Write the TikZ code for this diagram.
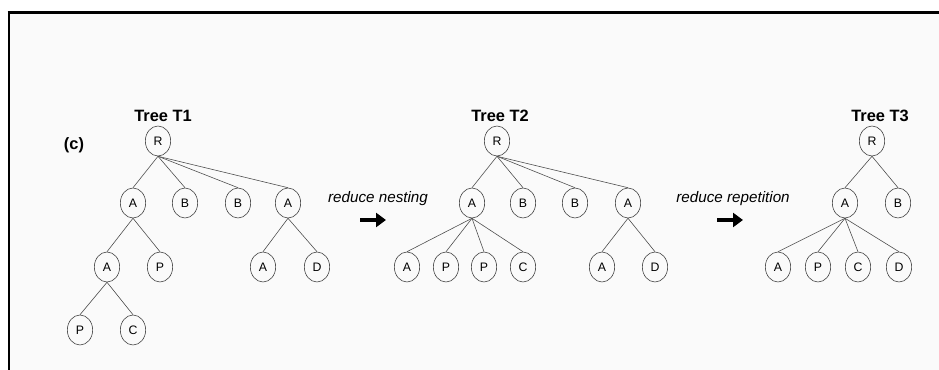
\documentclass[tikz,border=0pt]{standalone}
\usepackage{fontspec}
\setmainfont{Liberation Sans}
\usetikzlibrary{shapes.geometric,arrows.meta}
\tikzset{
  tnode/.style={draw=black!75, ellipse, line width=0.5pt, inner sep=0pt,
    minimum width=0.76cm, minimum height=0.9cm, font=\fontsize{10.5}{12}\selectfont},
  edge/.style={draw=black!70, line width=0.5pt},
  ttitle/.style={font=\fontsize{14}{16}\selectfont\bfseries},
  steplabel/.style={font=\fontsize{13}{15}\selectfont\itshape},
  bigarrow/.style={line width=4pt, -{Triangle[length=0.3cm, width=0.42cm]}}
}
\begin{document}
\begin{tikzpicture}[x=0.03cm, y=-0.03cm]
  \useasboundingbox (0,0) rectangle (939,370);
  \fill[black!2] (9,12.5) rectangle (939,370);
  \draw[line width=1.7pt] (9,370) -- (9,12.5);
  \draw[line width=2.6pt] (7.5,12.5) -- (939,12.5);
  \node[ttitle] (lab) at (74,145) {(c)};
  % Tree T1
  \node[ttitle] (ti1) at (163,116) {Tree T1};
  \node[tnode] (r1) at (158,141) {R};
  \node[tnode] (a1) at (133,203) {A};  \node[tnode] (b1) at (185,203) {B};
  \node[tnode] (b2) at (238,203) {B};  \node[tnode] (a2) at (288,203) {A};
  \node[tnode] (a3) at (107,267) {A};  \node[tnode] (p1) at (160,267) {P};
  \node[tnode] (a4) at (263,267) {A};  \node[tnode] (d1) at (317,267) {D};
  \node[tnode] (p2) at (80,330) {P};   \node[tnode] (c1) at (133,330) {C};
  \foreach \p/\c in {r1/a1, r1/b1, r1/b2, r1/a2, a1/a3, a1/p1, a2/a4, a2/d1, a3/p2, a3/c1}
    \draw[edge] (\p.south) -- (\c.north);
  % reduce nesting
  \node[steplabel] (nest) at (378,199) {reduce nesting};
  \coordinate (nest1) at (360,220); \coordinate (nest2) at (386,220);
  \draw[bigarrow] (nest1) -- (nest2);
  % Tree T2
  \node[ttitle] (ti2) at (500,116) {Tree T2};
  \node[tnode] (s) at (497,141) {R};
  \node[tnode] (sa1) at (472,203) {A};  \node[tnode] (sb1) at (523,203) {B};
  \node[tnode] (sb2) at (575,203) {B};  \node[tnode] (sa2) at (628,203) {A};
  \node[tnode] (sa3) at (407,267) {A};  \node[tnode] (sp1) at (446,267) {P};
  \node[tnode] (sp2) at (484,267) {P};  \node[tnode] (sc) at (523,267) {C};
  \node[tnode] (sa4) at (602,267) {A};  \node[tnode] (sd) at (655,267) {D};
  \foreach \p/\c in {s/sa1, s/sb1, s/sb2, s/sa2, sa1/sa3, sa1/sp1, sa1/sp2, sa1/sc, sa2/sa4, sa2/sd}
    \draw[edge] (\p.south) -- (\c.north);
  % reduce repetition
  \node[steplabel] (rep) at (733,199) {reduce repetition};
  \coordinate (rep1) at (717,220); \coordinate (rep2) at (743,220);
  \draw[bigarrow] (rep1) -- (rep2);
  % Tree T3
  \node[ttitle] (ti3) at (880,116) {Tree T3};
  \node[tnode] (t) at (872,141) {R};
  \node[tnode] (ta1) at (845,203) {A};  \node[tnode] (tb) at (898,203) {B};
  \node[tnode] (ta2) at (778,267) {A};  \node[tnode] (tp) at (818,267) {P};
  \node[tnode] (tc) at (858,267) {C};   \node[tnode] (td) at (899,267) {D};
  \foreach \p/\c in {t/ta1, t/tb, ta1/ta2, ta1/tp, ta1/tc, ta1/td}
    \draw[edge] (\p.south) -- (\c.north);
\end{tikzpicture}
\end{document}
